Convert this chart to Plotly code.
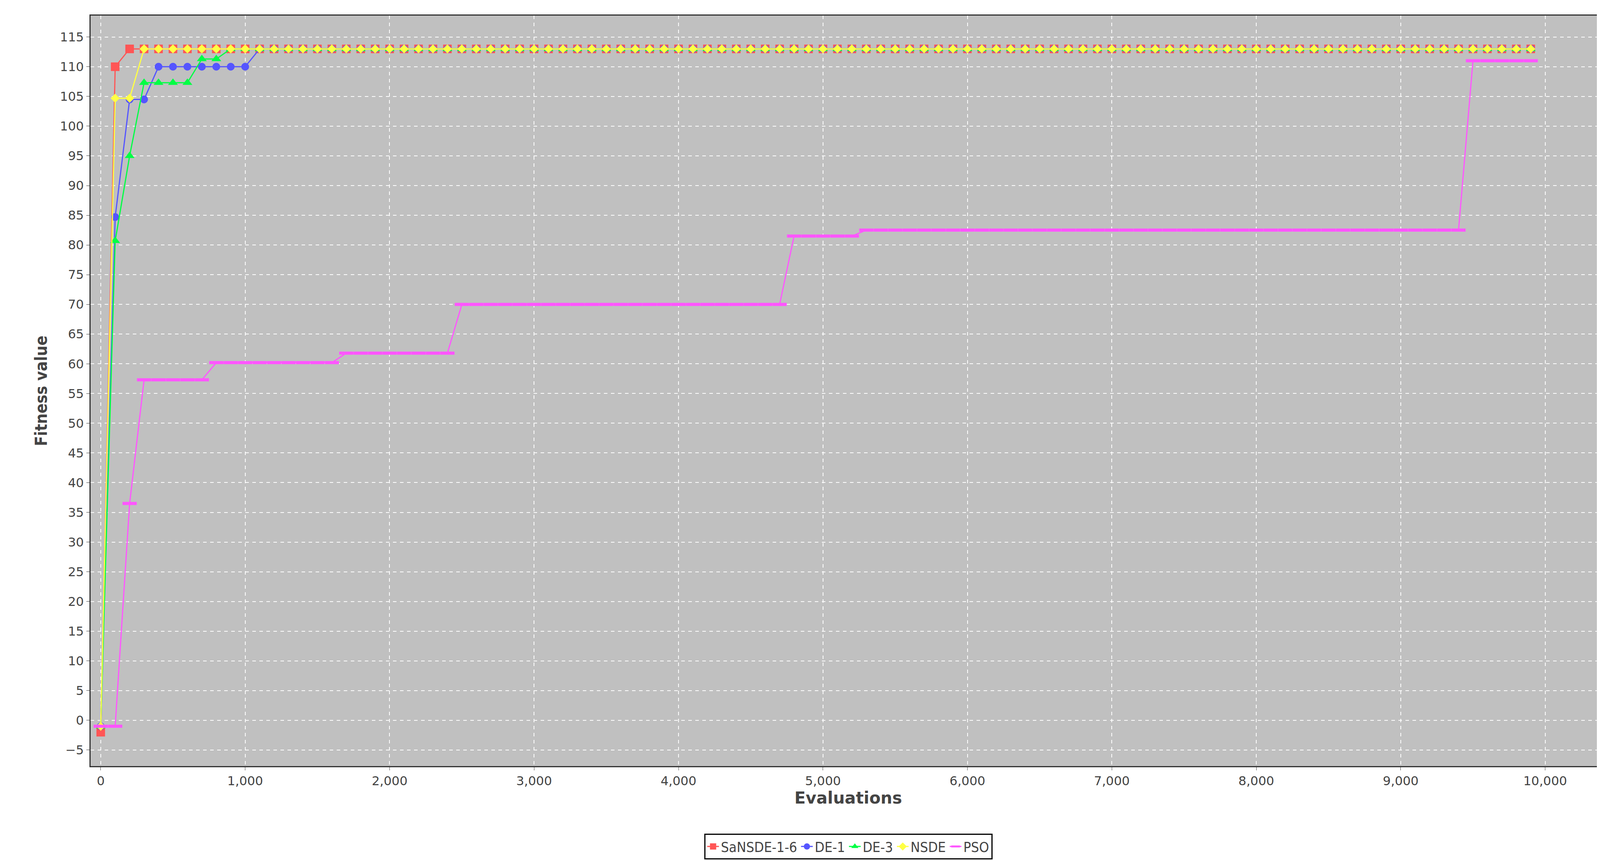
import plotly.graph_objects as go

# Evaluations, sampled every 100
evals = list(range(0, 10000, 100))

sansde = [-2, 110] + [113] * 98
de1 = [-1, 84.7, 104.5, 104.5] + [110] * 7 + [113] * 89
de3 = [-1, 80.7, 95, 107.3, 107.3, 107.3, 107.3, 111.3, 111.3] + [113] * 91
nsde = [-1, 104.7, 104.7] + [113] * 97
pso = ([-1, -1, 36.5] + [57.3] * 5 + [60.2] * 9 + [61.8] * 8 + [70] * 23
       + [81.5] * 5 + [82.5] * 42 + [111] * 5)

series = [
    ("SaNSDE-1-6", sansde, "#ff5555", dict(symbol="square", size=22)),
    ("DE-1", de1, "#5555ff", dict(symbol="circle", size=20)),
    ("DE-3", de3, "#00ff44", dict(symbol="triangle-up", size=22)),
    ("NSDE", nsde, "#ffff44", dict(symbol="diamond", size=18)),
    ("PSO", pso, "#ff55ff", dict(symbol="line-ew", size=26, line=dict(width=8, color="#ff55ff"))),
]

fig = go.Figure()
for name, ys, color, mk in series:
    fig.add_trace(go.Scatter(
        x=evals, y=ys, name=name, mode="lines+markers",
        line=dict(color=color, width=3),
        marker=dict(color=color, **mk),
    ))

fig.update_layout(
    width=4117, height=2204,
    paper_bgcolor="white", plot_bgcolor="#c0c0c0",
    margin=dict(l=224, r=14, t=32, b=224),
    font=dict(family="DejaVu Sans", size=32, color="#444444"),
    legend=dict(
        orientation="h", x=0.5, xanchor="center", y=-0.09, yanchor="top",
        bordercolor="black", borderwidth=3, font=dict(size=36, family="DejaVu Sans Condensed"),
        bgcolor="white",
    ),
    xaxis=dict(
        range=[-70, 10420], dtick=1000, tickformat=",d",
        showgrid=True, gridcolor="white", griddash="dash", gridwidth=2,
        zeroline=False, showline=True, linecolor="#333333", linewidth=3, mirror=True,
        ticks="outside", ticklen=8,
        title=dict(text="<b>Evaluations</b>", font=dict(size=42), standoff=10),
    ),
    yaxis=dict(
        range=[-7.7, 118.6], dtick=5,
        showgrid=True, gridcolor="white", griddash="dash", gridwidth=2,
        zeroline=False, showline=True, linecolor="#333333", linewidth=3, mirror=True,
        ticks="outside", ticklen=8,
        title=dict(text="<b>Fitness value</b>", font=dict(size=42, family="DejaVu Sans Condensed"), standoff=20),
    ),
)

fig.write_html("out.html")
